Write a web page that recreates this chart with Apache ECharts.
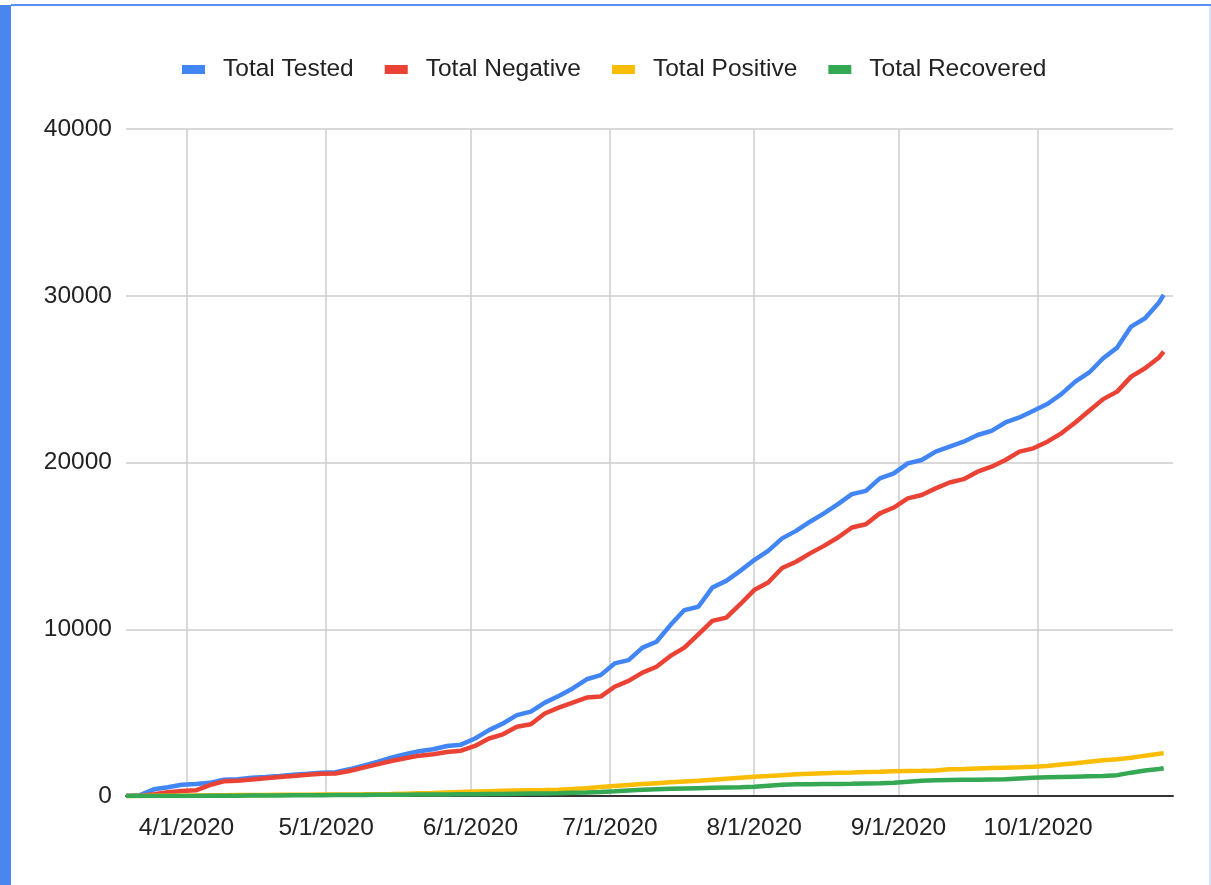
<!DOCTYPE html>
<html>
<head>
<meta charset="utf-8">
<script src="https://cdn.jsdelivr.net/npm/echarts@6/dist/echarts.min.js"></script>
<style>
html,body{margin:0;padding:0;background:#fff;}
#chart{width:1211px;height:885px;}
</style>
</head>
<body>
<div id="chart"></div>
<script>
const dates = ['2020-03-19','2020-03-22','2020-03-25','2020-03-28','2020-03-31','2020-04-03','2020-04-06','2020-04-09','2020-04-12','2020-04-15','2020-04-18','2020-04-21','2020-04-24','2020-04-27','2020-04-30','2020-05-03','2020-05-06','2020-05-09','2020-05-12','2020-05-15','2020-05-18','2020-05-21','2020-05-24','2020-05-27','2020-05-30','2020-06-02','2020-06-05','2020-06-08','2020-06-11','2020-06-14','2020-06-17','2020-06-20','2020-06-23','2020-06-26','2020-06-29','2020-07-02','2020-07-05','2020-07-08','2020-07-11','2020-07-14','2020-07-17','2020-07-20','2020-07-23','2020-07-26','2020-07-29','2020-08-01','2020-08-04','2020-08-07','2020-08-10','2020-08-13','2020-08-16','2020-08-19','2020-08-22','2020-08-25','2020-08-28','2020-08-31','2020-09-03','2020-09-06','2020-09-09','2020-09-12','2020-09-15','2020-09-18','2020-09-21','2020-09-24','2020-09-27','2020-09-30','2020-10-03','2020-10-06','2020-10-09','2020-10-12','2020-10-15','2020-10-18','2020-10-21','2020-10-24','2020-10-27','2020-10-28'];

const totalTested = [0,50,400,530,680,720,790,980,1000,1090,1140,1200,1270,1330,1400,1420,1600,1820,2050,2300,2500,2680,2800,3000,3080,3450,3950,4350,4850,5060,5600,6000,6450,7000,7250,7950,8150,8900,9250,10250,11150,11350,12500,12900,13500,14150,14700,15450,15900,16450,16950,17500,18100,18300,19050,19350,19950,20150,20650,20950,21250,21650,21900,22400,22700,23100,23510,24100,24850,25400,26250,26890,28150,28650,29600,30050];

const totalNegative = [0,0,100,230,300,340,650,880,920,990,1070,1140,1200,1270,1330,1350,1500,1700,1900,2100,2260,2420,2500,2640,2720,3000,3450,3700,4150,4300,4950,5300,5600,5900,5960,6550,6900,7400,7750,8400,8900,9700,10500,10700,11500,12350,12800,13670,14050,14550,15000,15500,16100,16300,16950,17300,17850,18050,18450,18800,19000,19450,19750,20150,20650,20850,21250,21750,22400,23100,23800,24250,25150,25650,26300,26650];

const totalPositive = [0,5,10,15,20,30,40,50,55,60,65,70,75,80,85,90,95,100,110,120,140,160,180,210,240,265,290,310,330,345,360,380,420,470,540,600,660,720,770,820,870,920,980,1040,1100,1160,1200,1250,1300,1330,1360,1390,1410,1440,1460,1490,1500,1510,1530,1600,1620,1650,1680,1700,1720,1750,1800,1890,1970,2060,2140,2200,2290,2420,2530,2570];

const totalRecovered = [0,0,0,0,0,5,10,15,20,25,30,35,40,45,50,55,60,65,70,75,80,85,90,95,100,105,115,125,135,145,155,170,190,210,240,280,330,380,410,430,450,470,490,510,530,560,620,680,700,710,720,720,730,750,770,800,860,920,940,960,970,980,990,1000,1050,1100,1120,1140,1160,1180,1200,1250,1400,1530,1620,1660];

const seriesNames = ['Total Tested','Total Negative','Total Positive','Total Recovered'];
const seriesColors = ['#4285F4','#EA4335','#FBBC04','#34A853'];
const yTicks = [0,10000,20000,30000,40000];

const FONT = "'Liberation Sans',Arial,sans-serif";
const FS = 24.5;
const valuesList = [totalTested,totalNegative,totalPositive,totalRecovered];

const chart = echarts.init(document.getElementById('chart'), null, {renderer:'canvas'});
chart.setOption({
  animation:false,
  backgroundColor:'#ffffff',
  textStyle:{fontFamily:FONT},
  legend:{
    top:52, left:177,
    icon:'rect', itemWidth:23, itemHeight:9, itemGap:31,
    textStyle:{fontFamily:FONT, fontSize:FS, color:'#222222', padding:[0,0,0,13]},
    data:seriesNames
  },
  grid:{left:126, right:38, top:129, bottom:89, containLabel:false},
  xAxis:{
    type:'time',
    min:'2020-03-19', max:'2020-10-30',
    splitNumber:7,
    axisLine:{show:true, lineStyle:{color:'#333333', width:2}},
    axisTick:{show:false},
    axisLabel:{fontFamily:FONT, fontSize:FS, color:'#222222', margin:20,
      formatter:'{M}/{d}/{yyyy}', showMinLabel:false, showMaxLabel:false, hideOverlap:false},
    splitLine:{show:true, showMinLine:false, showMaxLine:false, lineStyle:{color:'#cccccc', width:1.5}}
  },
  yAxis:{
    type:'value', min:yTicks[0], max:yTicks[yTicks.length-1], interval:yTicks[1]-yTicks[0],
    axisLine:{show:false}, axisTick:{show:false},
    axisLabel:{fontFamily:FONT, fontSize:FS, color:'#222222', margin:14, formatter:function(v){return String(v);}},
    splitLine:{show:true, lineStyle:{color:'#cccccc', width:1.5}}
  },
  graphic:[
    {type:'rect', shape:{x:0,y:5,width:11,height:880}, style:{fill:'#4a86f0'}, z:100},
    {type:'rect', shape:{x:11,y:4,width:1200,height:2}, style:{fill:'#5b8ff5'}, z:100},
    {type:'rect', shape:{x:1209,y:6,width:2,height:879}, style:{fill:'#d6e4fb'}, z:100}
  ],
  series: seriesNames.map((n,i)=>({
    name:n, type:'line', showSymbol:false, symbol:'none',
    lineStyle:{width:4.5, color:seriesColors[i]},
    itemStyle:{color:seriesColors[i]},
    z:2+i,
    data: dates.map((d,k)=>[d, valuesList[i][k]])
  }))
});
</script>
</body>
</html>
